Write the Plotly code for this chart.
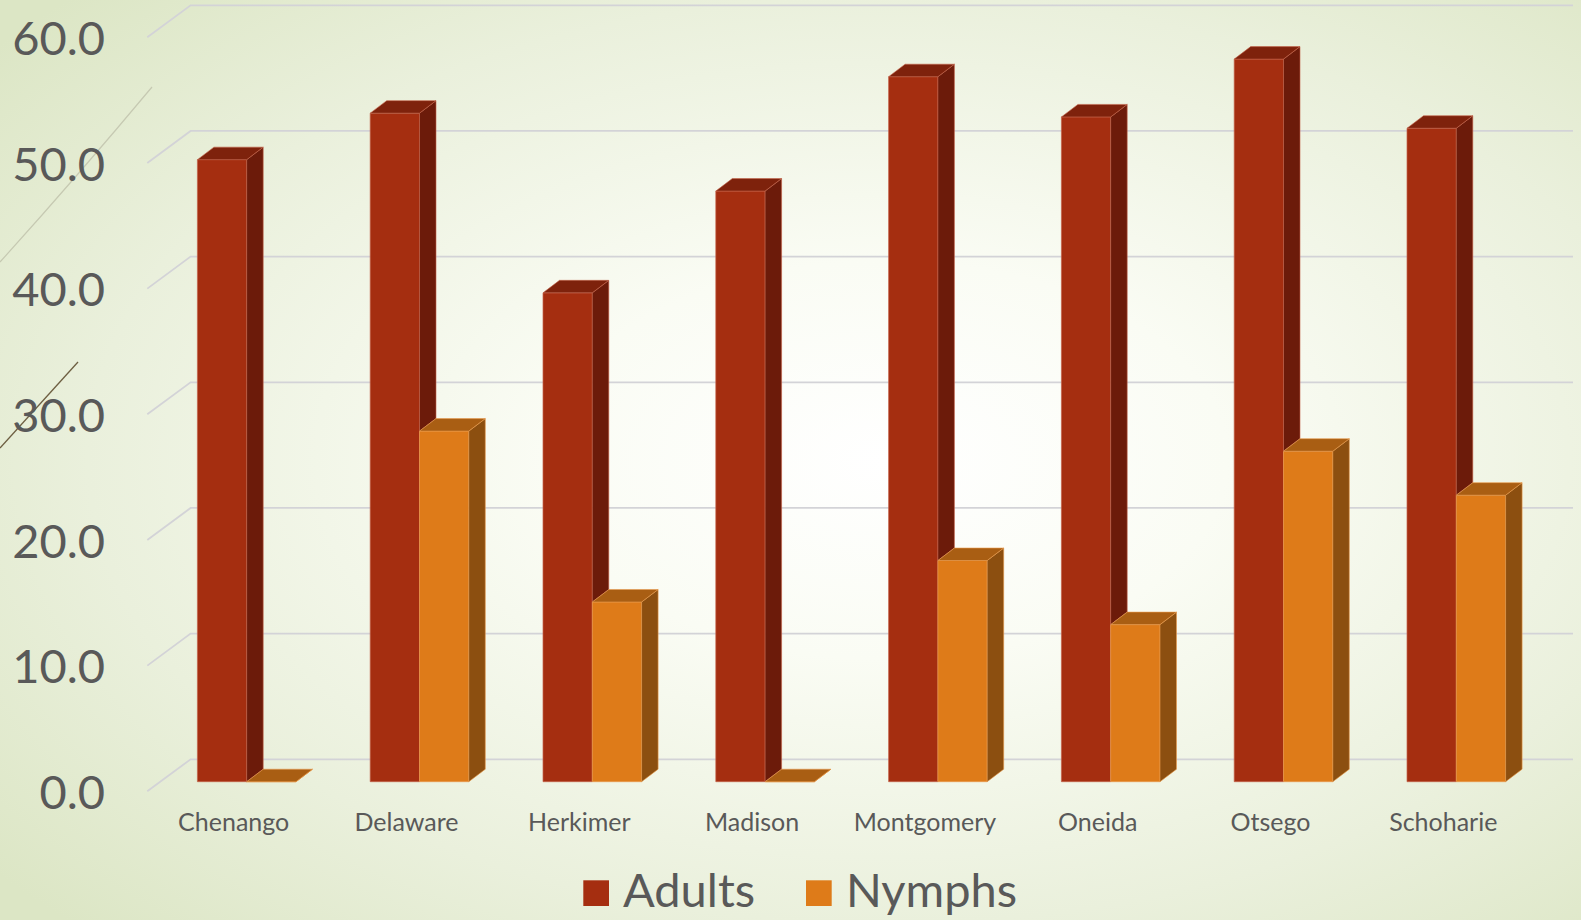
import base64
import plotly.graph_objects as go

# ---------------- data ----------------
categories = ["Chenango", "Delaware", "Herkimer", "Madison",
              "Montgomery", "Oneida", "Otsego", "Schoharie"]
adults = [49.5, 53.2, 38.9, 47.0, 56.1, 52.9, 57.5, 52.0]
nymphs = [0.0, 27.9, 14.3, 0.0, 17.6, 12.5, 26.3, 22.8]
y_ticks = [0, 10, 20, 30, 40, 50, 60]
series_names = ["Adults", "Nymphs"]

# ---------------- style ----------------
ADULT_FRONT, ADULT_SIDE, ADULT_TOP, ADULT_EDGE = "#a52e10", "#6c1b0a", "#7e220c", "#c4634a"
NYMPH_FRONT, NYMPH_SIDE, NYMPH_TOP, NYMPH_EDGE = "#de7b19", "#8c4f10", "#a95e13", "#e99a4c"
TEXT = "#595959"
GRID = "#d3d3d7"
FONT = "Lato"

W, H = 1581, 920
L, R, T, B = 140, 1575, 0, 800          # plot area in px
px_cat, x_left_px = 172.8, 160.3          # px per category, px of x=-0.5
px_unit, y0_px = 12.567, 781.7            # px per value unit, px of y=0

x_min = -0.5 - (x_left_px - L) / px_cat
x_max = x_min + (R - L) / px_cat
y_min = -(B - y0_px) / px_unit
y_max = y_min + (B - T) / px_unit

BW = 49.3 / px_cat                        # bar width (category units)
DX, DY = 16.5 / px_cat, 12.5 / px_unit    # bar depth projection
WX, WY = 30.3 / px_cat, 22.4 / px_unit    # back wall offset
FX, FY = -13.0 / px_cat, -9.6 / px_unit   # floor front edge offset

idx = list(range(len(categories)))


def polys(list_of_pts):
    xs, ys = [], []
    for pts in list_of_pts:
        for px_, py_ in pts:
            xs.append(px_)
            ys.append(py_)
        xs.append(pts[0][0]); ys.append(pts[0][1])
        xs.append(None); ys.append(None)
    return xs, ys


adult_side = [[(i, min(n, a)), (i + DX, min(n, a) + DY), (i + DX, a + DY), (i, a)]
              for i, a, n in zip(idx, adults, nymphs)]
adult_top = [[(i - BW, a), (i, a), (i + DX, a + DY), (i - BW + DX, a + DY)]
             for i, a in zip(idx, adults)]
nymph_side = [[(i + BW, 0), (i + BW + DX, DY), (i + BW + DX, n + DY), (i + BW, n)]
              for i, n in zip(idx, nymphs)]
nymph_top = [[(i, n), (i + BW, n), (i + BW + DX, n + DY), (i + DX, n + DY)]
             for i, n in zip(idx, nymphs)]

fig = go.Figure()

# front faces (real bars)
fig.add_trace(go.Bar(x=idx, y=adults, width=BW, offset=-BW, name=series_names[0],
                     marker=dict(color=ADULT_FRONT, line=dict(color=ADULT_EDGE, width=0.7)),
                     showlegend=False))
fig.add_trace(go.Bar(x=idx, y=nymphs, width=BW, offset=0, name=series_names[1],
                     marker=dict(color=NYMPH_FRONT, line=dict(color=NYMPH_EDGE, width=0.7)),
                     showlegend=False))

# side / top faces
for pts, fc, ec in [(adult_side, ADULT_SIDE, ADULT_EDGE), (adult_top, ADULT_TOP, ADULT_EDGE),
                    (nymph_side, NYMPH_SIDE, NYMPH_EDGE), (nymph_top, NYMPH_TOP, NYMPH_EDGE)]:
    xs, ys = polys(pts)
    fig.add_trace(go.Scatter(x=xs, y=ys, mode="lines", fill="toself", fillcolor=fc,
                             line=dict(color=ec, width=0.6), hoverinfo="skip",
                             showlegend=False))

# wall gridlines (back wall + left wall diagonals)
shapes = []
x_front = -0.5 + FX
x_back = -0.5 + WX
x_right = len(categories) - 0.5 + WX
for v in y_ticks:
    shapes.append(dict(type="path", xref="x", yref="y", layer="below",
                       path=f"M{x_front},{v + FY} L{x_back},{v + WY} L{x_right},{v + WY}",
                       line=dict(color=GRID, width=1.8)))


def pxx(p):
    return (p - L) / (R - L)


def pxy(p):
    return (B - p) / (B - T)


# custom legend
legend_items = [(series_names[0], ADULT_FRONT, 583.3, 622.7),
                (series_names[1], NYMPH_FRONT, 806.0, 846.0)]
annotations = []
for name, col, sq_x, tx in legend_items:
    shapes.append(dict(type="rect", xref="paper", yref="paper", layer="above",
                       x0=pxx(sq_x), x1=pxx(sq_x + 25.7), y0=pxy(906.0), y1=pxy(880.3),
                       fillcolor=col, line=dict(width=0)))
    annotations.append(dict(text=name, xref="paper", yref="paper", x=pxx(tx - 2), y=pxy(889),
                            xanchor="left", yanchor="middle", showarrow=False,
                            font=dict(family=FONT, size=47, color=TEXT)))

# background gradient + decorative strokes
svg = f'''<svg xmlns="http://www.w3.org/2000/svg" width="{W}" height="{H}" viewBox="0 0 {W} {H}" preserveAspectRatio="none">
<defs><radialGradient id="g" cx="0.56" cy="0.5" r="0.72">
<stop offset="0" stop-color="#ffffff"/><stop offset="0.3" stop-color="#fafcf4"/>
<stop offset="0.7" stop-color="#eaf0dc"/><stop offset="1" stop-color="#dce6c5"/></radialGradient></defs>
<rect x="0" y="0" width="{W}" height="{H}" fill="url(#g)"/>
<path d="M0,262 Q76,178 152,87" stroke="#c6c9b2" stroke-width="1.2" fill="none"/>
<path d="M0,448 L78,362" stroke="#6e5f42" stroke-width="1.3" fill="none"/>
</svg>'''
src = "data:image/svg+xml;base64," + base64.b64encode(svg.encode()).decode()

fig.update_layout(
    width=W, height=H,
    margin=dict(l=L, r=W - R, t=T, b=H - B, pad=0),
    paper_bgcolor="rgba(0,0,0,0)", plot_bgcolor="rgba(0,0,0,0)",
    barmode="overlay",
    showlegend=False,
    shapes=shapes,
    annotations=annotations,
    images=[dict(source=src, xref="paper", yref="paper",
                 x=pxx(0), y=pxy(0), sizex=W / (R - L), sizey=H / (B - T),
                 xanchor="left", yanchor="top", sizing="stretch", layer="below")],
    xaxis=dict(range=[x_min, x_max], tickvals=idx, ticktext=categories,
               showgrid=False, zeroline=False, showline=False, ticks="",
               tickfont=dict(family=FONT, size=25, color=TEXT),
               ticklabelshift=-13, ticklabelstandoff=5, fixedrange=True),
    yaxis=dict(range=[y_min, y_max], tickvals=y_ticks,
               ticktext=[f"{v:.1f}" for v in y_ticks],
               showgrid=False, zeroline=False, showline=False, ticks="",
               tickfont=dict(family=FONT, size=47, color=TEXT),
               ticklabeloverflow="allow",
               ticklabelshift=11, ticklabelstandoff=34, fixedrange=True),
    hovermode=False,
)

fig.write_html("out.html", config={"displayModeBar": False})
